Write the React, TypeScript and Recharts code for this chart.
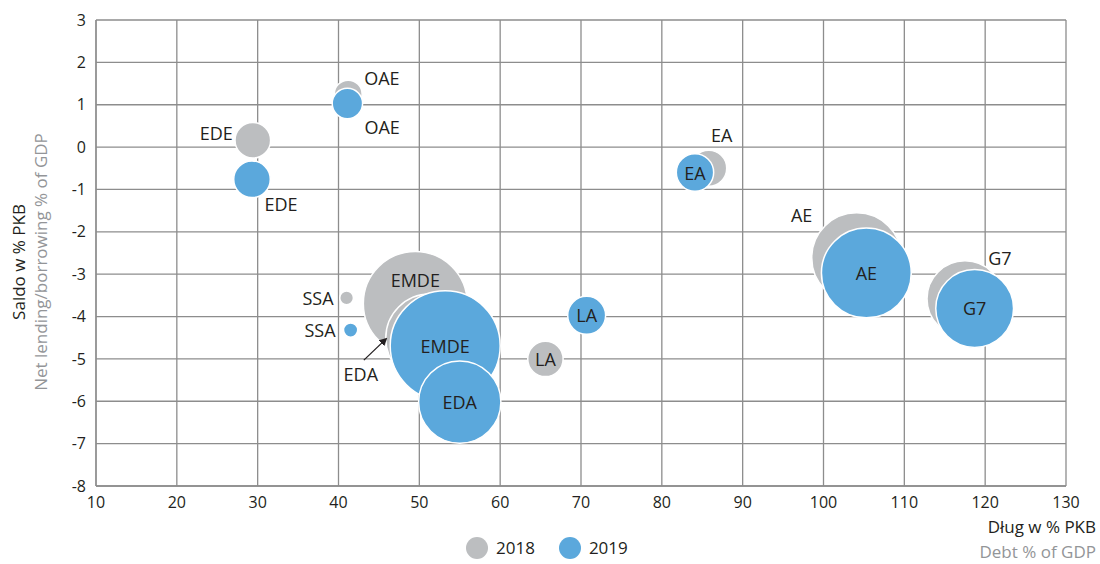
import React from 'react';
import { ScatterChart, Scatter, XAxis, YAxis, ZAxis, CartesianGrid } from 'recharts';

// regiony i wartości
const regions = ['OAE', 'EDE', 'SSA', 'EMDE', 'EDA', 'LA', 'EA', 'AE', 'G7'];

const debt2018 = [41.2, 29.4, 41.0, 49.5, 51.3, 65.6, 85.8, 104.1, 117.5];
const balance2018 = [1.25, 0.16, -3.56, -3.69, -4.51, -5.0, -0.5, -2.61, -3.58];
const size2018 = [5.4, 8.8, 1.3, 75, 54, 8.7, 9, 56, 40];

const debt2019 = [41.1, 29.3, 41.5, 53.2, 55.0, 70.7, 84.1, 105.3, 118.7];
const balance2019 = [1.03, -0.76, -4.32, -4.69, -6.02, -3.97, -0.6, -2.97, -3.81];
const size2019 = [6.4, 9.3, 1.4, 84, 47, 10, 9.7, 56, 42];

const xTicks = [10, 20, 30, 40, 50, 60, 70, 80, 90, 100, 110, 120, 130];
const yTicks = [-8, -7, -6, -5, -4, -3, -2, -1, 0, 1, 2, 3];

const FONT = '"Open Sans", sans-serif';
const GRAY = '#bcbec0';
const BLUE = '#5ba8dc';
const TEXT = '#231f20';
const GRID = '#8d8d8d';

type LabelSpot = {
  dx: number;
  dy: number;
  anchor: 'start' | 'middle' | 'end';
  arrow?: [number, number, number, number];
};

const inside: LabelSpot = { dx: 0, dy: 0, anchor: 'middle' };

const labels2018: Record<string, LabelSpot> = {
  OAE: { dx: 16, dy: -16, anchor: 'start' },
  EDE: { dx: -20, dy: -7, anchor: 'end' },
  SSA: { dx: -13, dy: 0, anchor: 'end' },
  EMDE: { dx: 0, dy: -23, anchor: 'middle' },
  EDA: { dx: -69, dy: 36, anchor: 'middle', arrow: [-66, 22, -44, 1] },
  EA: { dx: 13, dy: -33, anchor: 'middle' },
  AE: { dx: -55, dy: -43, anchor: 'middle' },
  G7: { dx: 35, dy: -41, anchor: 'middle' },
};

const labels2019: Record<string, LabelSpot> = {
  OAE: { dx: 17, dy: 24, anchor: 'start' },
  EDE: { dx: 29, dy: 25, anchor: 'middle' },
  SSA: { dx: -15, dy: 0, anchor: 'end' },
};

const build = (debt: number[], balance: number[], size: number[]) =>
  regions.map((name, i) => ({ name, debt: debt[i], balance: balance[i], size: size[i] }));

const data2018 = build(debt2018, balance2018, size2018);
const data2019 = build(debt2019, balance2019, size2019);

const makeBubble = (fill: string, spots: Record<string, LabelSpot>) => (props: any) => {
  const { cx, cy, width, payload } = props;
  const r = width / 2;
  const spot = spots[payload.name] ?? inside;
  return (
    <g>
      <circle cx={cx} cy={cy} r={r} fill={fill} stroke="#fff" strokeWidth={1.5} />
      {spot.arrow && (
        <line
          x1={cx + spot.arrow[0]}
          y1={cy + spot.arrow[1]}
          x2={cx + spot.arrow[2]}
          y2={cy + spot.arrow[3]}
          stroke={TEXT}
          strokeWidth={1.3}
          markerEnd="url(#arrowHead)"
        />
      )}
      <text
        x={cx + spot.dx}
        y={cy + spot.dy}
        textAnchor={spot.anchor}
        dominantBaseline="central"
        fontSize={18}
        fill={TEXT}
        fontFamily={FONT}
      >
        {payload.name}
      </text>
    </g>
  );
};

const LegendDot = ({ color, label }: { color: string; label: string }) => (
  <div style={{ display: 'flex', alignItems: 'center', marginRight: 24 }}>
    <span style={{ width: 22, height: 22, borderRadius: '50%', background: color, marginRight: 8 }} />
    <span style={{ fontSize: 17, color: TEXT }}>{label}</span>
  </div>
);

const App: React.FC = () => {
  return (
    <div style={{ position: 'absolute', left: 0, top: 0, width: 1100, height: 564, background: '#fff', fontFamily: FONT }}>
      <ScatterChart width={1100} height={564} margin={{ top: 20, right: 34, left: 0, bottom: 48 }}>
        <defs>
          <marker id="arrowHead" markerWidth="8" markerHeight="8" refX="6" refY="4" orient="auto" markerUnits="userSpaceOnUse">
            <path d="M0,0 L8,4 L0,8 Z" fill={TEXT} />
          </marker>
        </defs>
        <CartesianGrid stroke={GRID} strokeWidth={1.3} />
        <XAxis
          type="number"
          dataKey="debt"
          domain={[10, 130]}
          ticks={xTicks}
          interval={0}
          height={30}
          tickLine={false}
          tickSize={0}
          tickMargin={11}
          axisLine={{ stroke: GRID, strokeWidth: 1.3 }}
          tick={{ fill: TEXT, fontSize: 16, fontFamily: FONT }}
        />
        <YAxis
          type="number"
          dataKey="balance"
          domain={[-8, 3]}
          ticks={yTicks}
          interval={0}
          width={96}
          tickLine={false}
          tickSize={0}
          tickMargin={10}
          axisLine={{ stroke: GRID, strokeWidth: 1.3 }}
          tick={{ fill: TEXT, fontSize: 16, fontFamily: FONT }}
        />
        <ZAxis type="number" dataKey="size" domain={[0, 100]} range={[0, Math.PI * 3600]} />
        <Scatter name="2018" data={data2018} fill={GRAY} shape={makeBubble(GRAY, labels2018)} isAnimationActive={false} />
        <Scatter name="2019" data={data2019} fill={BLUE} shape={makeBubble(BLUE, labels2019)} isAnimationActive={false} />
      </ScatterChart>

      <div
        style={{
          position: 'absolute',
          left: 30,
          top: 262,
          transform: 'translate(-50%, -50%) rotate(-90deg)',
          whiteSpace: 'nowrap',
          textAlign: 'center',
          lineHeight: '22px',
          fontSize: 17,
        }}
      >
        <div style={{ color: TEXT }}>Saldo w % PKB</div>
        <div style={{ color: '#939598' }}>Net lending/borrowing % of GDP</div>
      </div>

      <div style={{ position: 'absolute', right: 4, top: 514, textAlign: 'right', fontSize: 17, lineHeight: '25px' }}>
        <div style={{ color: TEXT }}>Dług w % PKB</div>
        <div style={{ color: '#939598' }}>Debt % of GDP</div>
      </div>

      <div style={{ position: 'absolute', left: 466, top: 536, display: 'flex' }}>
        <LegendDot color={GRAY} label="2018" />
        <LegendDot color={BLUE} label="2019" />
      </div>
    </div>
  );
};

export default App;
